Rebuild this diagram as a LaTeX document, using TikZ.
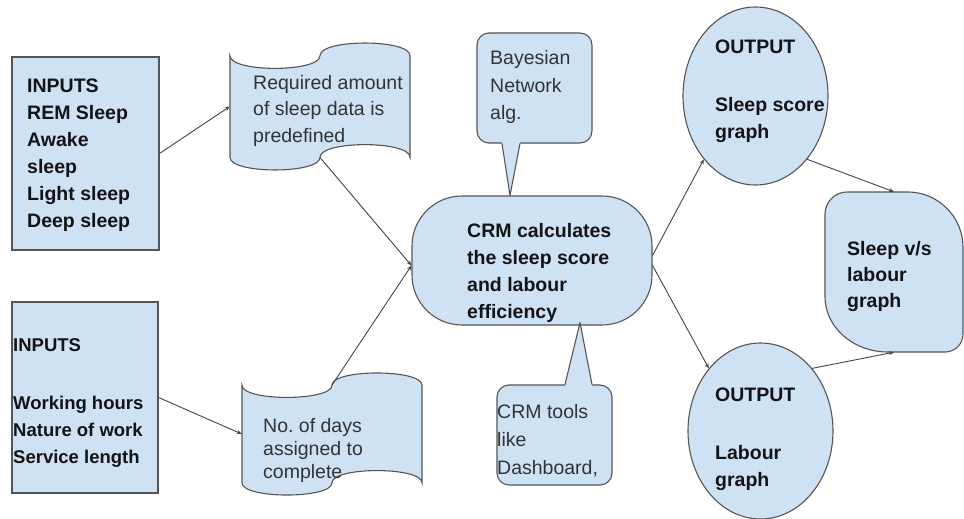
\documentclass[tikz,border=0pt]{standalone}
\usepackage{fontspec}
\setmainfont{Liberation Sans}
\usetikzlibrary{shapes.geometric,arrows.meta,calc}

\definecolor{boxfill}{HTML}{CFE2F3}
\definecolor{boxline}{HTML}{555555}
\definecolor{linkline}{HTML}{444444}

\tikzset{
  shapebox/.style={draw=boxline, fill=boxfill, line width=1.1pt, inner sep=0pt},
  ghost/.style={draw=none, fill=none, inner sep=0pt},
  outline/.style={draw=boxline, fill=boxfill, line width=1.1pt},
  txt/.style={inner sep=0pt, align=left, anchor=west, text=black!80,
    font=\fontsize{19.5}{27}\selectfont,
    execute at begin node=\strut, execute at end node=\strut},
  btxt/.style={txt, text=black!92, font=\fontsize{19.5}{27}\selectfont\bfseries},
  conn/.style={draw=linkline, line width=0.9pt, -{Stealth[length=5pt,width=4pt]}},
}

\begin{document}
\frenchspacing
\begin{tikzpicture}[x=1pt, y=-1pt]
  \useasboundingbox (0,0) rectangle (964,519);
  \fill[white] (0,0) rectangle (964,519);

  % input boxes
  \node[shapebox, minimum width=147, minimum height=193] (in1) at (85.5,153.5) {};
  \node[shapebox, minimum width=146, minimum height=191] (in2) at (85,397.5) {};

  % punched-tape shapes
  \path[outline] (230,55.7) .. controls (230,72.6) and (320,72.6) .. (320,55.7)
    .. controls (320,38.8) and (410,38.8) .. (410,55.7) -- (410,157.3)
    .. controls (410,140.4) and (320,140.4) .. (320,157.3)
    .. controls (320,174.2) and (230,174.2) .. (230,157.3) -- cycle;
  \node[ghost, minimum width=180, minimum height=101.6] (doc1) at (320,106.5) {};

  \path[outline] (242,385.2) .. controls (242,401.5) and (332,401.5) .. (332,385.2)
    .. controls (332,368.9) and (422,368.9) .. (422,385.2) -- (422,482.8)
    .. controls (422,466.5) and (332,466.5) .. (332,482.8)
    .. controls (332,499.1) and (242,499.1) .. (242,482.8) -- cycle;
  \node[ghost, minimum width=180, minimum height=97.6] (doc2) at (332,434) {};

  % central process
  \node[shapebox, rounded corners=50, minimum width=240, minimum height=129] (crm) at (532,260.5) {};

  % callouts
  \node[shapebox, rounded corners=12, minimum width=115, minimum height=110] (bayes) at (534.5,88) {};
  \coordinate (bayestip) at ($(crm.north)+(-22,0)$);
  \fill[boxfill] ($(bayes.south)+(-32.5,-2)$) -- (bayestip) -- ($(bayes.south)+(-14.5,-2)$) -- cycle;
  \draw[boxline, line width=1.1pt, line join=round] ($(bayes.south)+(-32.5,0)$) -- (bayestip) -- ($(bayes.south)+(-14.5,0)$);

  \node[shapebox, rounded corners=12, minimum width=115, minimum height=100] (tools) at (554.5,435) {};
  \coordinate (toolstip) at ($(crm.south)+(48,-3)$);
  \fill[boxfill] ($(tools.north)+(10.5,2)$) -- (toolstip) -- ($(tools.north)+(37.5,2)$) -- cycle;
  \draw[boxline, line width=1.1pt, line join=round] ($(tools.north)+(10.5,0)$) -- (toolstip) -- ($(tools.north)+(37.5,0)$);

  % outputs
  \node[shapebox, ellipse, minimum width=145, minimum height=178] (out1) at (755.5,96) {};
  \node[shapebox, ellipse, minimum width=145, minimum height=176] (out2) at (760.5,431) {};

  % combined graph shape
  \path[outline] (825,214) .. controls (825,202) and (835,192) .. (847,192)
    -- (908,192) .. controls (938,192) and (963,217) .. (963,247)
    -- (963,334) .. controls (963,344) and (955,352) .. (945,352)
    -- (888,352) .. controls (853,352) and (825,327) .. (825,297) -- cycle;
  \node[ghost, minimum width=138, minimum height=160] (slv) at (894,272) {};

  % connectors
  \draw[conn] (in1.east) -- (doc1.west);
  \draw[conn] (doc1.south) -- ([yshift=-5pt]crm.west);
  \draw[conn] (in2.east) -- (doc2.west);
  \draw[conn] (doc2.north) -- ([yshift=-5pt]crm.west);
  \draw[conn] ([yshift=5pt]crm.east) -- (out1.south west);
  \draw[conn] ([yshift=-5pt]crm.east) -- (out2.north west);
  \draw[conn] (out1.south east) -- (slv.north);
  \draw[conn] (out2.north east) -- (slv.south);

  % labels
  \node[btxt] (in1txt) at (27,157) {INPUTS\\REM Sleep\\Awake\\sleep\\Light sleep\\Deep sleep};
  \node[btxt, font=\fontsize{18.5}{27}\selectfont\bfseries] (in2txt) at (13,405)
    {INPUTS\\[31pt]Working hours\\Nature of work\\Service length};
  \node[txt, font=\fontsize{19.5}{26.5}\selectfont] (doc1txt) at (253,112.5)
    {Required amount\\of sleep data is\\predefined};
  \node[txt, font=\fontsize{19.5}{23}\selectfont] (doc2txt) at (263,451.5)
    {No.\ of days\\assigned to\\complete};
  \node[txt, font=\fontsize{19.5}{27.5}\selectfont] (bayestxt) at (490,89.5)
    {Bayesian\\Network\\alg.};
  \node[txt, font=\fontsize{19.5}{28}\selectfont] (toolstxt) at (497,444)
    {CRM tools\\like\\Dashboard,};
  \node[btxt] (crmtxt) at (467,275)
    {CRM calculates\\the sleep score\\and labour\\efficiency};
  \node[btxt] (out1txt) at (715,93.5) {OUTPUT\\[31pt]Sleep score\\graph};
  \node[btxt] (out2txt) at (715,441.5) {OUTPUT\\[31pt]Labour\\graph};
  \node[btxt, font=\fontsize{19.5}{26}\selectfont\bfseries] (slvtxt) at (847,278)
    {Sleep v/s\\labour\\graph};
\end{tikzpicture}
\end{document}
